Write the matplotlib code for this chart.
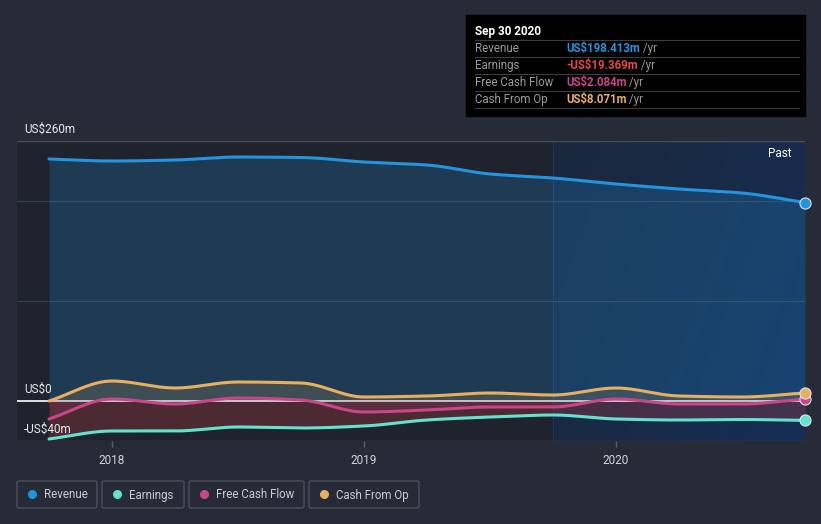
import numpy as np
import matplotlib
matplotlib.use("Agg")
import matplotlib.pyplot as plt
from matplotlib.patches import FancyBboxPatch, Rectangle, Circle

plt.rcParams['font.family'] = ['Roboto', 'DejaVu Sans']

# ---- data (US$ m, quarterly, trailing twelve months) ----
dates = [2017.75, 2018.0, 2018.25, 2018.5, 2018.75, 2019.0, 2019.25,
         2019.5, 2019.75, 2020.0, 2020.25, 2020.5, 2020.75]
revenue = [242, 240, 241, 244, 243.5, 239, 236, 227, 223, 217, 212, 208, 198.413]
earnings = [-38, -30, -30, -26, -27, -25, -19, -16, -14, -18, -19, -18.5, -19.369]
fcf = [-18, 2, -3, 3, 1, -11, -9, -6, -6, 2, -3, -3, 2.084]
cfo = [0, 20, 13, 19, 18, 4, 5, 8, 6, 13, 5, 4, 8.071]

yticks = [-40, 0, 260]
ytick_labels = ["-US$40m", "US$0", "US$260m"]
xticks = [2018, 2019, 2020]
xtick_labels = ["2018", "2019", "2020"]

series_names = ["Revenue", "Earnings", "Free Cash Flow", "Cash From Op"]
series_colors = ["#2394df", "#62e3cf", "#c9468b", "#e8b05e"]
tooltip_title = "Sep 30 2020"
tooltip_values = ["US$198.413m", "-US$19.369m", "US$2.084m", "US$8.071m"]
tooltip_value_colors = ["#2394df", "#e84545", "#c9468b", "#e8b05e"]

BG = "#262b37"


def monotone(x, y, n=400):
    x = np.asarray(x, float)
    y = np.asarray(y, float)
    h = np.diff(x)
    d = np.diff(y) / h
    m = np.zeros_like(y)
    m[0] = d[0]
    m[-1] = d[-1]
    for i in range(1, len(y) - 1):
        if d[i - 1] * d[i] <= 0:
            m[i] = 0
        else:
            w1 = 2 * h[i] + h[i - 1]
            w2 = h[i] + 2 * h[i - 1]
            m[i] = (w1 + w2) / (w1 / d[i - 1] + w2 / d[i])
    xs = np.linspace(x[0], x[-1], n)
    idx = np.clip(np.searchsorted(x, xs) - 1, 0, len(x) - 2)
    t = (xs - x[idx]) / h[idx]
    h00 = 2 * t**3 - 3 * t**2 + 1
    h10 = t**3 - 2 * t**2 + t
    h01 = -2 * t**3 + 3 * t**2
    h11 = t**3 - t**2
    ys = h00 * y[idx] + h10 * h[idx] * m[idx] + h01 * y[idx + 1] + h11 * h[idx] * m[idx + 1]
    return xs, ys


W, H = 821, 524
fig = plt.figure(figsize=(W / 100, H / 100), dpi=100, facecolor=BG)

L, R, T, B = 17, 805, 141, 441
ax = fig.add_axes([L / W, (H - B) / H, (R - L) / W, (B - T) / H])
ax.set_facecolor(BG)

x0 = 2018 - (112 - L) / 252
x1 = 2020.75
ax.set_xlim(x0, x1)
ax.set_ylim(-40, 260)

# background regions
ax.axvspan(x0, 2019.75, color="#1f232d", zorder=0, lw=0)
c_tl = np.array([0x1b, 0x28, 0x3d]) / 255
c_br = np.array([0x16, 0x2e, 0x54]) / 255
gx, gy = np.meshgrid(np.linspace(0, 1, 50), np.linspace(0, 1, 50))
tt = (gx * 0.7 + gy * 0.3)[..., None]
grad = c_tl * (1 - tt) + c_br * tt
ax.imshow(grad, extent=[2019.75, x1, -40, 260], aspect="auto", zorder=0.1, origin="upper")
ax.axvline(2019.75, color="#1d3a63", lw=0.8, zorder=0.2)

# grid
for gv in [100, 200]:
    ax.axhline(gv, color="#3a4150", lw=0.8, zorder=0.5)
ax.axhline(260, color="#4a4f5a", lw=1.0, zorder=0.5)
ax.axhline(-40, color="#3e4350", lw=1.0, zorder=0.5)
ax.axhline(0, color="#ffffff", lw=1.2, zorder=0.6)

# fills
xs, rv = monotone(dates, revenue)
_, ev = monotone(dates, earnings)
_, fv = monotone(dates, fcf)
_, cv = monotone(dates, cfo)

ax.fill_between(xs, 0, rv, color=series_colors[0], alpha=0.22, lw=0, zorder=1)
ax.fill_between(xs, 0, cv, where=cv > 0, color=series_colors[3], alpha=0.16, lw=0, zorder=1.1)
ax.fill_between(xs, 0, ev, color="#e84545", alpha=0.22, lw=0, zorder=1.2)
ax.fill_between(xs, 0, np.minimum(fv, 0), color=series_colors[2], alpha=0.14, lw=0, zorder=1.3)

# lines
for vals, col, z in [(rv, series_colors[0], 3), (ev, series_colors[1], 3.1),
                     (fv, series_colors[2], 3.2), (cv, series_colors[3], 3.3)]:
    ax.plot(xs, vals, color=col, lw=2.2, zorder=z, solid_capstyle="round")

for vals, col in zip([revenue, earnings, fcf, cfo], series_colors):
    ax.plot([dates[-1]], [vals[-1]], "o", ms=8, color=col, mec="#d8e4f0", mew=0.8,
            zorder=4, clip_on=False)

# axes styling
for s in ax.spines.values():
    s.set_visible(False)
ax.set_yticks([])
ax.set_xticks(xticks)
ax.set_xticklabels(xtick_labels)
ax.tick_params(axis="x", colors="#5a5f6b", length=4, width=1, pad=5,
               labelcolor="#d0d3d8", labelsize=8.5)

for v, lab in zip(yticks, ytick_labels):
    ax.annotate(lab, xy=(0, v), xycoords=("axes fraction", "data"),
                xytext=(7, 5), textcoords="offset pixels",
                ha="left", va="bottom", color="#e6e8eb", fontsize=8.5, zorder=6)

ax.text(0.983, 0.96, "Past", transform=ax.transAxes, color="#ffffff",
        fontsize=8.5, ha="right", va="center", zorder=6)

# overlay for tooltip and legend
ov = fig.add_axes([0, 0, 1, 1], facecolor="none")
ov.set_xlim(0, W)
ov.set_ylim(H, 0)
ov.axis("off")

ov.add_patch(Rectangle((466, 15), 339, 101, color="#000000", zorder=1))
ov.text(475, 31, tooltip_title, color="#ffffff", fontsize=8.5, fontweight="bold",
        ha="left", va="center", zorder=2)
for sy in [40, 57, 74, 91, 108]:
    ov.plot([475, 799], [sy, sy], color="#3c3c3c", lw=0.8, zorder=2)
for i, (nm, val, vc) in enumerate(zip(series_names, tooltip_values, tooltip_value_colors)):
    yy = 48.5 + 17 * i
    ov.text(475, yy, nm, color="#9a9a9a", fontsize=8.3, ha="left", va="center", zorder=2)
    t = ov.text(566, yy, val, color=vc, fontsize=8.3, fontweight="bold",
                ha="left", va="center", zorder=2)
    ov.annotate(" /yr", xy=(1, 0.5), xycoords=t, ha="left", va="center",
                color="#9a9a9a", fontsize=8.3, zorder=2)

legend_boxes = [(17, 97), (102, 184), (189, 304), (309, 419)]
for (bx0, bx1), nm, col in zip(legend_boxes, series_names, series_colors):
    ov.add_patch(FancyBboxPatch((bx0, 481), bx1 - bx0, 27,
                                boxstyle="round,pad=0,rounding_size=2",
                                fc="none", ec="#4a505c", lw=1.0, zorder=1))
    ov.add_patch(Circle((bx0 + 15.5, 494.5), 3.8, color=col, zorder=2))
    ov.text(bx0 + 27, 495, nm, color="#c8ccd2", fontsize=8.3, ha="left",
            va="center", zorder=2)

fig.savefig("out.png", dpi=100, facecolor=BG)
